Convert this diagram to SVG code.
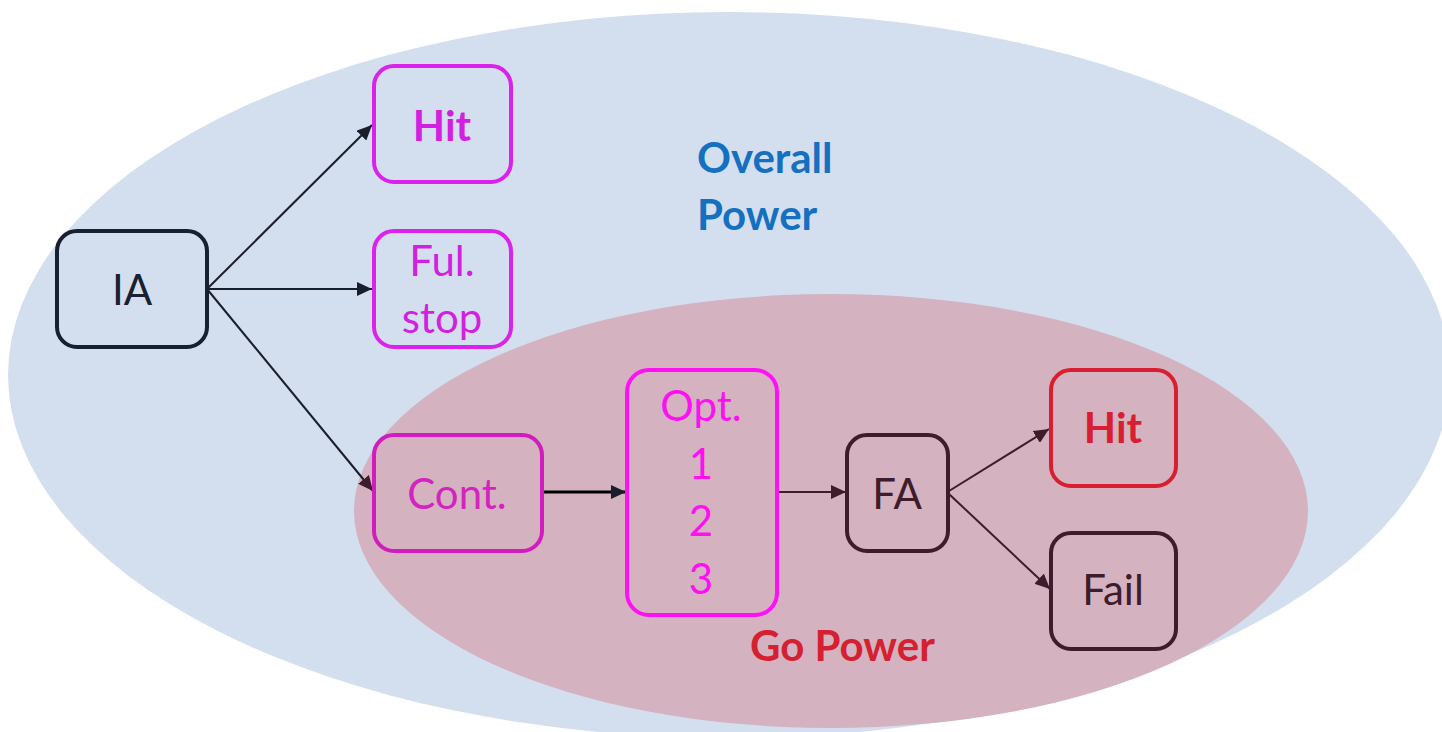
<svg xmlns="http://www.w3.org/2000/svg" width="1442" height="732" viewBox="0 0 1442 732">
<style>
.box{fill:none;stroke-width:4}
.t{font-family:Lato,"Open Sans",sans-serif;font-size:42px;text-anchor:middle}
.b{font-weight:bold}
.lbl{font-family:Lato,"Open Sans",sans-serif;font-size:42px;font-weight:bold}
.c{fill:none;stroke-width:2}
</style>
<defs>
<marker id="ah" markerUnits="userSpaceOnUse" markerWidth="16" markerHeight="14" refX="15" refY="7" orient="auto"><path d="M0,0 L15,7 L0,14 z" fill="#1a1d2a"/></marker>
<marker id="ahm" markerUnits="userSpaceOnUse" markerWidth="16" markerHeight="14" refX="15" refY="7" orient="auto"><path d="M0,0 L15,7 L0,14 z" fill="#3E1C2B"/></marker>
</defs>
<rect width="1442" height="732" fill="#ffffff"/>
<g id="overall-region">
<ellipse cx="729" cy="375" rx="721" ry="363" fill="#D3DFEE"/>
<text class="lbl" x="697" y="173" fill="#1570C0">Overall</text>
<text class="lbl" x="697" y="230" fill="#1570C0">Power</text>
</g>
<g id="go-region">
<ellipse cx="831" cy="511" rx="477" ry="217" fill="#D4B2C0"/>
<text class="lbl" x="750" y="661" fill="#D42030">Go Power</text>
</g>
<g id="connectors">
<line class="c" x1="207" y1="289" x2="372" y2="125" stroke="#1a1d2a" marker-end="url(#ah)"/>
<line class="c" x1="207" y1="289" x2="372" y2="289" stroke="#1a1d2a" marker-end="url(#ah)"/>
<line class="c" x1="207" y1="289" x2="373" y2="491" stroke="#1a1d2a" marker-end="url(#ahm)"/>
<line x1="542" y1="492" x2="626" y2="492" stroke="#000000" stroke-width="3" marker-end="url(#ah)"/>
<line class="c" x1="777" y1="492" x2="846" y2="492" stroke="#3E1C2B" marker-end="url(#ahm)"/>
<line class="c" x1="949" y1="491" x2="1049" y2="429" stroke="#3E1C2B" marker-end="url(#ahm)"/>
<line class="c" x1="949" y1="494" x2="1050" y2="589" stroke="#3E1C2B" marker-end="url(#ahm)"/>
</g>
<g id="node-ia">
<rect class="box" x="57" y="231" width="150" height="116" rx="20" stroke="#162030"/>
<text class="t" x="132" y="305" fill="#1a2030">IA</text>
</g>
<g id="node-hit-top">
<rect class="box" x="374" y="66" width="137" height="116" rx="20" stroke="#DA22EC"/>
<text class="t b" x="442" y="141" fill="#D21FE0">Hit</text>
</g>
<g id="node-fulstop">
<rect class="box" x="374" y="231" width="137" height="116" rx="20" stroke="#DA22EC"/>
<text class="t" x="442" y="276" fill="#D21FE0">Ful.</text>
<text class="t" x="442" y="333" fill="#D21FE0">stop</text>
</g>
<g id="node-cont">
<rect class="box" x="374" y="435" width="168" height="116" rx="20" stroke="#D21CBE"/>
<text class="t" x="457" y="509" fill="#D424C0">Cont.</text>
</g>
<g id="node-opt">
<rect class="box" x="627" y="370" width="150" height="245" rx="22" stroke="#FF10F5"/>
<text class="t" x="701" y="421" fill="#FF10F0">Opt.</text>
<text class="t" x="701" y="479" fill="#FF10F0">1</text>
<text class="t" x="701" y="536" fill="#FF10F0">2</text>
<text class="t" x="701" y="594" fill="#FF10F0">3</text>
</g>
<g id="node-fa">
<rect class="box" x="847" y="435" width="101" height="116" rx="20" stroke="#3E1C2B"/>
<text class="t" x="897" y="509" fill="#3E1C2B">FA</text>
</g>
<g id="node-hit-red">
<rect class="box" x="1051" y="370" width="125" height="116" rx="20" stroke="#D81E30"/>
<text class="t b" x="1113" y="443" fill="#D81E30">Hit</text>
</g>
<g id="node-fail">
<rect class="box" x="1051" y="533" width="125" height="116" rx="20" stroke="#3E1C2B"/>
<text class="t" x="1113" y="605" fill="#3E1C2B">Fail</text>
</g>
</svg>
